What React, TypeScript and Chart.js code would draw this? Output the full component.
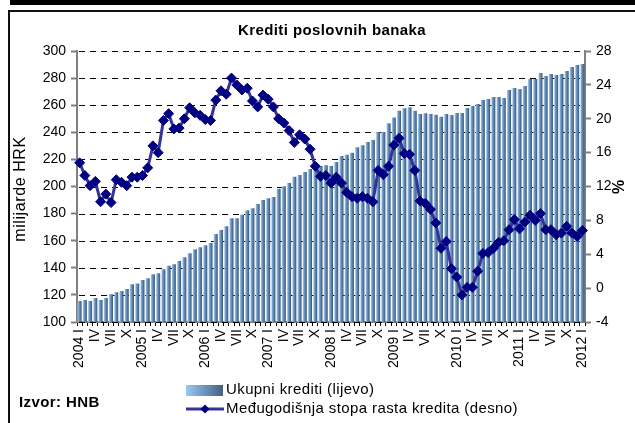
import React, { useEffect, useRef } from 'react';
import { Chart, registerables } from 'chart.js';

Chart.register(...registerables);

const TITLE = 'Krediti poslovnih banaka';
const LEFT_TITLE = 'milijarde HRK';
const RIGHT_TITLE = '%';
const SOURCE = 'Izvor: HNB';
const SERIES_BAR_NAME = 'Ukupni krediti (lijevo)';
const SERIES_LINE_NAME = 'Međugodišnja stopa rasta kredita (desno)';

const YEARS = [2004, 2005, 2006, 2007, 2008, 2009, 2010, 2011, 2012];
const ROMAN = ['I', 'II', 'III', 'IV', 'V', 'VI', 'VII', 'VIII', 'IX', 'X', 'XI', 'XII'];

const CATEGORIES: string[] = [];
YEARS.forEach((y) => {
  ROMAN.forEach((m, i) => {
    if (y === 2012 && i > 0) return;
    CATEGORIES.push(i === 0 ? `${y} I` : m);
  });
});

// Ukupni krediti, milijarde HRK
const LOANS = [
  115.5, 116.2, 115.5, 117.7, 116.2, 117.7, 120.4, 121.9, 122.9, 124.4, 127.8, 128.5,
  131.0, 132.2, 135.2, 135.9, 138.9, 141.6, 142.6, 145.0, 147.7, 150.7, 153.6, 155.1,
  156.6, 158.3, 164.9, 167.9, 170.6, 176.5, 176.5, 179.2, 182.4, 184.0, 187.1, 190.0,
  191.3, 192.3, 198.3, 200.2, 202.6, 207.2, 208.5, 210.7, 212.9, 214.2, 215.1, 215.6,
  215.1, 218.1, 222.5, 223.5, 224.9, 228.9, 230.4, 232.8, 234.3, 240.2, 240.2, 246.6,
  251.0, 255.9, 257.7, 258.4, 255.9, 253.5, 254.0, 253.5, 252.9, 251.5, 253.5, 252.8,
  254.2, 254.2, 257.9, 259.4, 260.9, 263.8, 264.6, 266.1, 266.1, 265.3, 271.2, 272.7,
  272.0, 274.2, 279.3, 279.3, 283.8, 281.5, 283.0, 282.3, 283.0, 285.2, 288.2, 289.7,
  290.4,
];

// Međugodišnja stopa rasta, %
const GROWTH = [
  14.8, 13.3, 12.1, 12.6, 10.2, 11.1, 10.1, 12.8, 12.5, 12.1, 13.1, 13.1,
  13.3, 14.2, 16.8, 16.0, 19.8, 20.6, 18.8, 18.9, 20.0, 21.3, 20.7, 20.4,
  19.9, 19.8, 22.2, 23.3, 22.9, 24.8, 24.0, 23.4, 23.6, 22.1, 21.4, 22.8,
  22.3, 21.4, 20.0, 19.5, 18.6, 17.2, 18.1, 17.6, 16.4, 14.4, 13.2, 13.3,
  12.4, 13.1, 12.4, 11.3, 10.8, 10.6, 10.8, 10.6, 10.2, 13.9, 13.4, 14.4,
  16.9, 17.7, 15.9, 15.8, 13.9, 10.3, 10.0, 9.3, 7.7, 4.7, 5.5, 2.3,
  1.3, -0.8, 0.1, 0.1, 2.0, 4.1, 4.2, 4.7, 5.4, 5.6, 6.9, 8.1,
  7.0, 7.8, 8.6, 8.0, 8.8, 6.9, 6.9, 6.3, 6.5, 7.3, 6.5, 6.1,
  6.8,
];

const FONT = '"Liberation Sans", Arial, Helvetica, sans-serif';
const LINE_COLOR = '#333399';
const MARKER_COLOR = '#000080';
const BAR_LIGHT = '#a9cff5';
const BAR_MID = '#6d99c6';
const BAR_DARK = '#3a5573';

const gridPlugin = {
  id: 'dashedGrid',
  beforeDatasetsDraw(chart: any) {
    const ctx: CanvasRenderingContext2D = chart.ctx;
    const area = chart.chartArea;
    const ys = chart.scales.y;
    ctx.save();
    ctx.strokeStyle = '#000';
    ctx.lineWidth = 1;
    ctx.setLineDash([6, 5]);
    ys.ticks.forEach((t: any) => {
      const py = Math.round(ys.getPixelForValue(t.value)) + 0.5;
      ctx.beginPath();
      ctx.moveTo(area.left + 2, py);
      ctx.lineTo(area.right, py);
      ctx.stroke();
    });
    ctx.restore();
  },
};

const textPlugin = {
  id: 'customTexts',
  afterDraw(chart: any) {
    const ctx: CanvasRenderingContext2D = chart.ctx;
    ctx.save();
    ctx.fillStyle = '#000';
    ctx.textBaseline = 'middle';

    // title
    ctx.font = `bold 15px ${FONT}`;
    ctx.textAlign = 'center';
    (ctx as any).letterSpacing = '0.4px';
    ctx.fillText(TITLE, 332, 31);

    // left axis title
    ctx.save();
    ctx.translate(21, 189);
    ctx.rotate(-Math.PI / 2);
    ctx.font = `16px ${FONT}`;
    (ctx as any).letterSpacing = '0.6px';
    ctx.fillText(LEFT_TITLE, 0, 0);
    ctx.restore();

    // right axis title
    ctx.save();
    ctx.translate(620, 187);
    ctx.rotate(-Math.PI / 2);
    ctx.font = `bold 16px ${FONT}`;
    (ctx as any).letterSpacing = '0px';
    ctx.fillText(RIGHT_TITLE, 0, 0);
    ctx.restore();

    // legend: bars
    const g = ctx.createLinearGradient(186, 0, 223, 0);
    g.addColorStop(0, '#9cc7ef');
    g.addColorStop(0.5, '#6d95bf');
    g.addColorStop(1, '#44607e');
    ctx.fillStyle = g;
    ctx.fillRect(186, 385, 37, 11);

    // legend: line
    ctx.strokeStyle = LINE_COLOR;
    ctx.lineWidth = 3;
    ctx.beginPath();
    ctx.moveTo(186, 409);
    ctx.lineTo(224, 409);
    ctx.stroke();
    ctx.fillStyle = MARKER_COLOR;
    ctx.beginPath();
    ctx.moveTo(205, 404.5);
    ctx.lineTo(209.5, 409);
    ctx.lineTo(205, 413.5);
    ctx.lineTo(200.5, 409);
    ctx.closePath();
    ctx.fill();

    ctx.fillStyle = '#000';
    ctx.textAlign = 'left';
    ctx.font = `15px ${FONT}`;
    (ctx as any).letterSpacing = '0.4px';
    ctx.fillText(SERIES_BAR_NAME, 226, 390);
    ctx.fillText(SERIES_LINE_NAME, 226, 409);

    // source
    ctx.font = `bold 15px ${FONT}`;
    (ctx as any).letterSpacing = '0.4px';
    ctx.fillText(SOURCE, 19, 403);

    ctx.restore();
  },
};

export default function App() {
  const canvasRef = useRef<HTMLCanvasElement | null>(null);

  useEffect(() => {
    if (!canvasRef.current) return;
    Chart.defaults.font.family = FONT;
    Chart.defaults.color = '#000';

    const chart = new Chart(canvasRef.current, {
      type: 'bar',
      data: {
        labels: CATEGORIES,
        datasets: [
          {
            type: 'line',
            label: SERIES_LINE_NAME,
            data: GROWTH,
            yAxisID: 'y1',
            borderColor: LINE_COLOR,
            borderWidth: 3,
            pointStyle: 'rectRot',
            pointRadius: 5,
            pointBackgroundColor: MARKER_COLOR,
            pointBorderColor: MARKER_COLOR,
            pointBorderWidth: 1,
            tension: 0,
            order: 0,
          } as any,
          {
            type: 'bar',
            label: SERIES_BAR_NAME,
            data: LOANS,
            yAxisID: 'y',
            barPercentage: 0.76,
            categoryPercentage: 1.0,
            borderWidth: 0,
            order: 1,
            backgroundColor: (c: any) => {
              const ch = c.chart;
              if (!ch.chartArea || c.type !== 'data') return BAR_MID;
              const x = ch.scales.x.getPixelForValue(c.dataIndex);
              const w = 4;
              const gr = ch.ctx.createLinearGradient(x - w / 2, 0, x + w / 2, 0);
              gr.addColorStop(0, BAR_LIGHT);
              gr.addColorStop(0.35, BAR_MID);
              gr.addColorStop(1, BAR_DARK);
              return gr;
            },
          } as any,
        ],
      },
      options: {
        responsive: false,
        animation: false,
        layout: { padding: { top: 51, left: 0, right: 0, bottom: 0 } },
        plugins: {
          legend: { display: false },
          title: { display: false },
          tooltip: { enabled: false },
        },
        scales: {
          x: {
            offset: true,
            grid: {
              offset: true,
              drawOnChartArea: false,
              drawTicks: true,
              tickLength: 4,
              tickColor: '#000',
              tickWidth: 1,
            },
            border: { display: true, color: '#808080', width: 2 },
            ticks: {
              autoSkip: false,
              maxRotation: 90,
              minRotation: 90,
              padding: 3,
              font: { size: 14 },
              color: '#000',
              callback: (_v: any, i: number) => (i % 3 === 0 ? CATEGORIES[i] : ''),
            },
            afterFit: (s: any) => {
              s.height = 101;
            },
          },
          y: {
            position: 'left',
            min: 100,
            max: 300,
            grid: {
              drawOnChartArea: false,
              tickLength: 6,
              tickColor: '#808080',
              tickWidth: 2,
            },
            border: { display: true, color: '#808080', width: 2 },
            ticks: {
              stepSize: 20,
              padding: 5,
              font: { size: 14 },
              color: '#000',
            },
            afterFit: (s: any) => {
              s.width = 77;
            },
          },
          y1: {
            position: 'right',
            min: -4,
            max: 28,
            grid: {
              drawOnChartArea: false,
              tickLength: 6,
              tickColor: '#808080',
              tickWidth: 2,
            },
            border: { display: true, color: '#808080', width: 2 },
            ticks: {
              stepSize: 4,
              padding: 5,
              font: { size: 14 },
              color: '#000',
            },
            afterFit: (s: any) => {
              s.width = 50;
            },
          },
        },
      } as any,
      plugins: [gridPlugin, textPlugin],
    });

    return () => {
      chart.destroy();
    };
  }, []);

  return (
    <div
      style={{
        position: 'fixed',
        left: 0,
        top: 0,
        width: 635,
        height: 423,
        background: '#fff',
        overflow: 'hidden',
      }}
    >
      <div style={{ position: 'absolute', left: 10, top: 0, width: 625, height: 5, background: '#000' }} />
      <div
        style={{
          position: 'absolute',
          left: 8,
          top: 10,
          width: 640,
          height: 420,
          borderLeft: '2px solid #111',
          borderTop: '2px solid #111',
          boxSizing: 'border-box',
        }}
      />
      <canvas
        ref={canvasRef}
        width={635}
        height={423}
        style={{ position: 'absolute', left: 0, top: 0, width: 635, height: 423 }}
      />
    </div>
  );
}
